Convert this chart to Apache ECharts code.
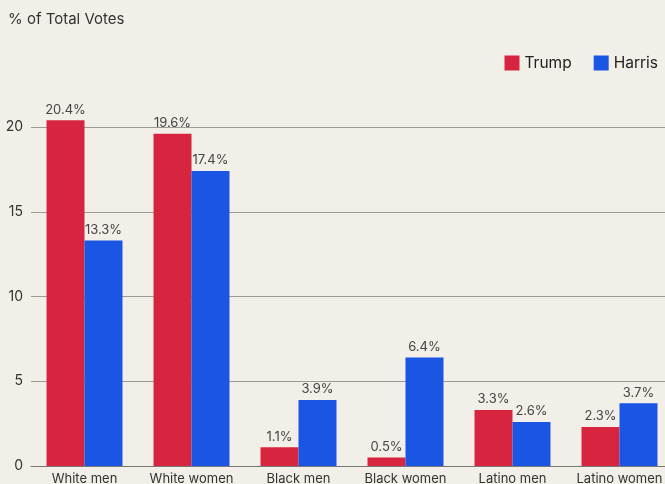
<!DOCTYPE html>
<html><head><meta charset="utf-8">
<script src="https://cdn.jsdelivr.net/npm/echarts@6/dist/echarts.min.js"></script>
<style>html,body{margin:0;padding:0;background:#F1EFE7;overflow:hidden;width:665px;height:484px;}#c{width:673px;height:484px;}</style>
</head><body><div id="c"></div>
<script>
const categories = ["White men","White women","Black men","Black women","Latino men","Latino women"];
const trump = [20.4, 19.6, 1.1, 0.5, 3.3, 2.3];
const harris = [13.3, 17.4, 3.9, 6.4, 2.6, 3.7];
const yTicks = [0, 5, 10, 15, 20];
const FONT = 'Inter, "Noto Sans", sans-serif';
const chart = echarts.init(document.getElementById('c'), null, {renderer:'canvas'});
const lbl = {show:true, position:'top', distance:4, color:'#444', fontSize:13, fontFamily:FONT, formatter: p => p.value.toFixed(1) + '%'};
chart.setOption({
  backgroundColor:'#F1EFE7',
  animation:false,
  title:{text:'% of Total Votes', left:8, top:12, padding:0, textStyle:{fontSize:15, fontWeight:'normal', color:'#333', fontFamily:FONT}},
  legend:{right:15, top:55, padding:0, itemWidth:15, itemHeight:15, itemGap:22, icon:'rect',
    textStyle:{fontSize:15.5, color:'#222', fontFamily:FONT}, data:['Trump','Harris']},
  grid:{left:31, right:0, top:127, bottom:18, containLabel:false, outerBoundsMode:'none'},
  xAxis:{type:'category', data:categories, axisTick:{show:false},
    axisLine:{show:true, lineStyle:{color:'#777', width:1}},
    axisLabel:{color:'#333', fontSize:13, fontFamily:FONT, margin:7, interval:0}},
  yAxis:{type:'value', min:yTicks[0], max:yTicks[yTicks.length-1], interval:5,
    axisLine:{show:false}, axisTick:{show:false},
    axisLabel:{color:'#333', fontSize:14, fontFamily:FONT, margin:8},
    splitLine:{lineStyle:{color:'#9a9a96', width:1}}},
  series:[
    {name:'Trump', type:'bar', data:trump, clip:false, barGap:'0%', barCategoryGap:'29%',
      itemStyle:{color:'#D8253F'}, label:lbl},
    {name:'Harris', type:'bar', data:harris, clip:false,
      itemStyle:{color:'#1A55E3'}, label:lbl}
  ]
});
</script></body></html>
